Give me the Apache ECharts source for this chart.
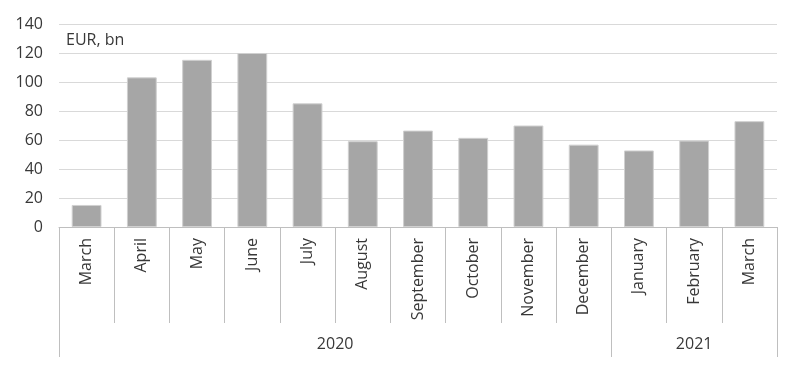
<!DOCTYPE html>
<html><head><meta charset="utf-8">
<script src="https://cdn.jsdelivr.net/npm/echarts@6/dist/echarts.min.js"></script>
<style>html,body{margin:0;padding:0;background:#fff}#c{width:800px;height:368px}</style>
</head><body><div id="c"></div>
<script>
const months = ['March','April','May','June','July','August','September','October','November','December','January','February','March'];
const values = [15.2, 103.2, 115.3, 120, 85.3, 59.2, 66.5, 61.5, 70, 56.8, 52.8, 59.6, 73];
const years = ['2020', '2021'];
const yearSpans = [10, 3];
const yTicks = [0, 20, 40, 60, 80, 100, 120, 140];
const unitLabel = 'EUR, bn';

const bounds = [0];
yearSpans.forEach(s => bounds.push(bounds[bounds.length - 1] + s));
const centers = yearSpans.map((s, i) => bounds[i] + s / 2);

const font = 'Open Sans';
const txt = '#383838';
const chart = echarts.init(document.getElementById('c'));
chart.setOption({
  animation: false,
  title: {text: unitLabel, left: 61, top: 27, textStyle: {fontFamily: font, fontSize: 16, fontWeight: 'normal', color: txt}},
  grid: {left: 59, right: 23, top: 24, bottom: 141, containLabel: false},
  xAxis: [{
    type: 'category', data: months, position: 'bottom',
    axisLine: {show: true, lineStyle: {color: '#bfbfbf', width: 1}},
    axisTick: {show: true, interval: 0, length: 96, lineStyle: {color: '#bfbfbf'}},
    axisLabel: {interval: 0, rotate: 90, margin: 11, fontFamily: font, fontSize: 16, color: txt}
  }, {
    type: 'value', min: bounds[0], max: bounds[bounds.length - 1], position: 'bottom', offset: 96,
    axisLine: {show: false},
    splitLine: {show: false},
    axisTick: {show: true, customValues: bounds, length: 34, lineStyle: {color: '#bfbfbf'}},
    axisLabel: {customValues: centers, margin: 13, fontFamily: font, fontSize: 16, color: txt,
      formatter: v => { const i = centers.indexOf(v); return i >= 0 ? years[i] : ''; }}
  }],
  yAxis: {
    type: 'value', min: yTicks[0], max: yTicks[yTicks.length - 1], interval: 20,
    axisLine: {show: false}, axisTick: {show: false},
    splitLine: {lineStyle: {color: '#d9d9d9', width: 1}},
    axisLabel: {margin: 16, fontFamily: font, fontSize: 16, color: txt}
  },
  series: [{
    type: 'bar', data: values, xAxisIndex: 0, barWidth: '54%',
    itemStyle: {color: '#a6a6a6', borderColor: '#d0d0d0', borderWidth: 1}
  }]
});
</script></body></html>
